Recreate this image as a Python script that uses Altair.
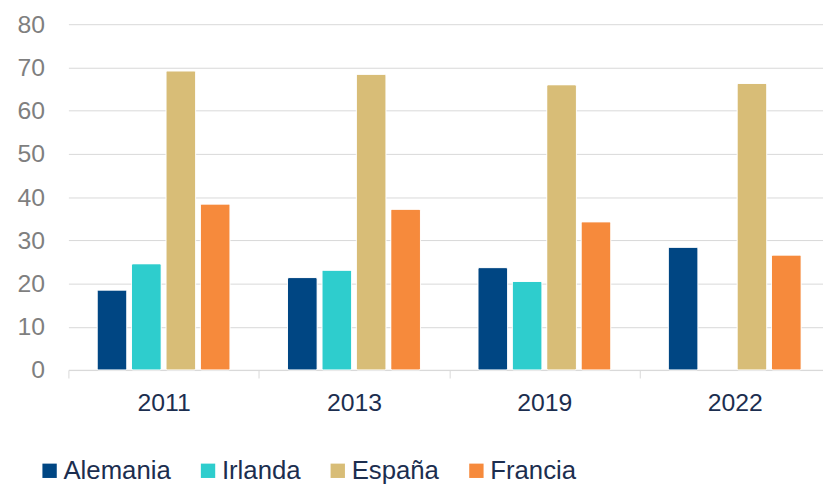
import altair as alt
import pandas as pd

years = ["2011", "2013", "2019", "2022"]
countries = ["Alemania", "Irlanda", "España", "Francia"]
colors = ["#004683", "#2ECDCD", "#D8BD77", "#F68A3C"]
alemania = [18.5, 21.4, 23.7, 28.4]
irlanda = [24.6, 23.1, 20.5, None]
espana = [69.2, 68.4, 66.0, 66.3]
francia = [38.4, 37.2, 34.3, 26.6]

series = {"Alemania": alemania, "Irlanda": irlanda, "España": espana, "Francia": francia}
rows = []
for c in countries:
    for y, v in zip(years, series[c]):
        if v is not None:
            rows.append({"year": y, "country": c, "value": v})
df = pd.DataFrame(rows)

FONT = "Liberation Sans"
NAVY = "#1C2E4F"

chart = alt.Chart(df).mark_bar(
    stroke="#ffffff", strokeWidth=0.8, cornerRadius=1.5
).encode(
    x=alt.X("year:N", sort=years, title=None,
            scale=alt.Scale(domain=years, paddingInner=0, paddingOuter=0),
            axis=alt.Axis(labelAngle=0, labelFont=FONT, labelFontSize=25, labelColor=NAVY,
                          tickBand="extent", tickSize=8, tickColor="#D9D9D9", tickWidth=1,
                          domainColor="#D9D9D9", domainWidth=1, labelPadding=13, grid=False)),
    xOffset=alt.XOffset("country:N", sort=countries,
                        scale=alt.Scale(domain=countries, paddingInner=0.135, paddingOuter=0.834)),
    y=alt.Y("value:Q", title=None,
            scale=alt.Scale(domain=[0, 80], nice=False),
            axis=alt.Axis(values=[0, 10, 20, 30, 40, 50, 60, 70, 80], ticks=False, tickSize=0,
                          domain=False, labelFont=FONT, labelFontSize=25, labelColor="#7F7F7F",
                          labelPadding=24, gridColor="#D9D9D9", gridWidth=1)),
    color=alt.Color("country:N", sort=countries,
                    scale=alt.Scale(domain=countries, range=colors),
                    legend=alt.Legend(title=None, orient="none", direction="horizontal",
                                      legendX=-32, legendY=438,
                                      symbolType="square", symbolSize=210, symbolStrokeWidth=0,
                                      labelFont=FONT, labelFontSize=26, labelColor=NAVY,
                                      labelOffset=1, columnPadding=24, labelLimit=300)),
).properties(
    width=769, height=349.3,
    autosize=alt.AutoSizeParams(type="none"),
    padding={"left": 61, "top": 14, "right": -7, "bottom": 112.7},
).configure_view(stroke=None)

chart.save("out.html", embed_options={"renderer": "svg", "actions": False})
